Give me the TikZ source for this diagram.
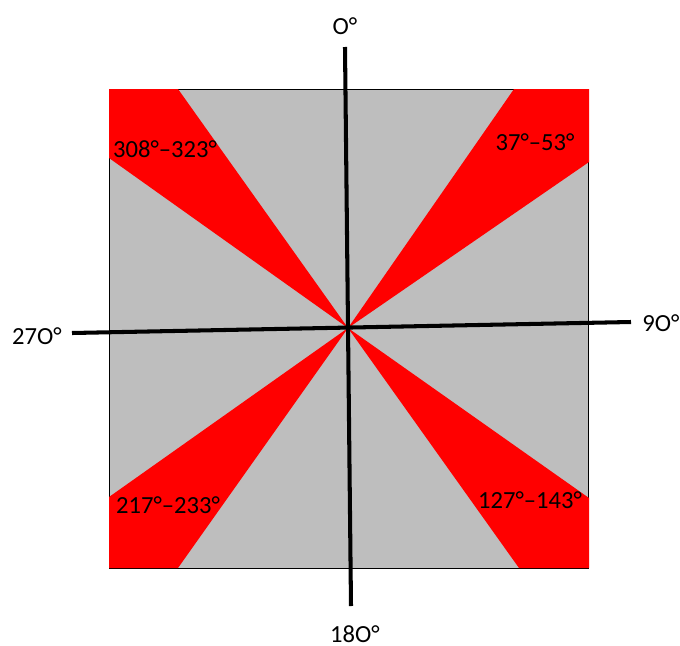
\documentclass[tikz,border=0pt]{standalone}
\usepackage{fontspec}
\setmainfont{Carlito}
\definecolor{bggray}{RGB}{190,190,190}
\definecolor{wedgered}{RGB}{255,0,0}

\begin{document}
\begin{tikzpicture}[x=0.02cm,y=-0.02cm]
			\tikzstyle{wedge}=[fill=wedgered]
			\tikzstyle{axis}=[line width=2.3pt]
			\tikzstyle{lbl}=[font=\fontsize{14}{16}\selectfont,inner sep=0pt]
				\useasboundingbox (0,0) rectangle (680,646);
				\coordinate (c) at (348,328);
				\fill [bggray] (109,89) rectangle (588,568);
				\draw [line width=0.5pt] (109,89) rectangle (588,568);
				% red sectors
				\fill [wedge] (c) -- (178,89) -- (109,89) -- (109,158) -- cycle;
				\fill [wedge] (c) -- (514,89) -- (589,89) -- (589,162) -- cycle;
				\fill [wedge] (c) -- (109,497) -- (109,568) -- (178,568) -- cycle;
				\fill [wedge] (c) -- (589,498) -- (589,568) -- (519,568) -- cycle;
				% axes
				\coordinate (n) at (345,47);
				\coordinate (s) at (351,606);
				\coordinate (w) at (72,333);
				\coordinate (e) at (631,322);
				\draw [axis] (n) -- (s);
				\draw [axis] (w) -- (e);
				\node [lbl] (l0) at (345,26) {O°};
				\node [lbl] (l90) at (661,323) {9O°};
				\node [lbl] (l180) at (355,634) {18O°};
				\node [lbl] (l270) at (37,336) {27O°};
				\node [lbl] (r1) at (165,149) {308°–323°};
				\node [lbl] (r2) at (535,142) {37°–53°};
				\node [lbl] (r3) at (168,505) {217°–233°};
				\node [lbl] (r4) at (530,500) {127°–143°};
	\end{tikzpicture}
\end{document}
